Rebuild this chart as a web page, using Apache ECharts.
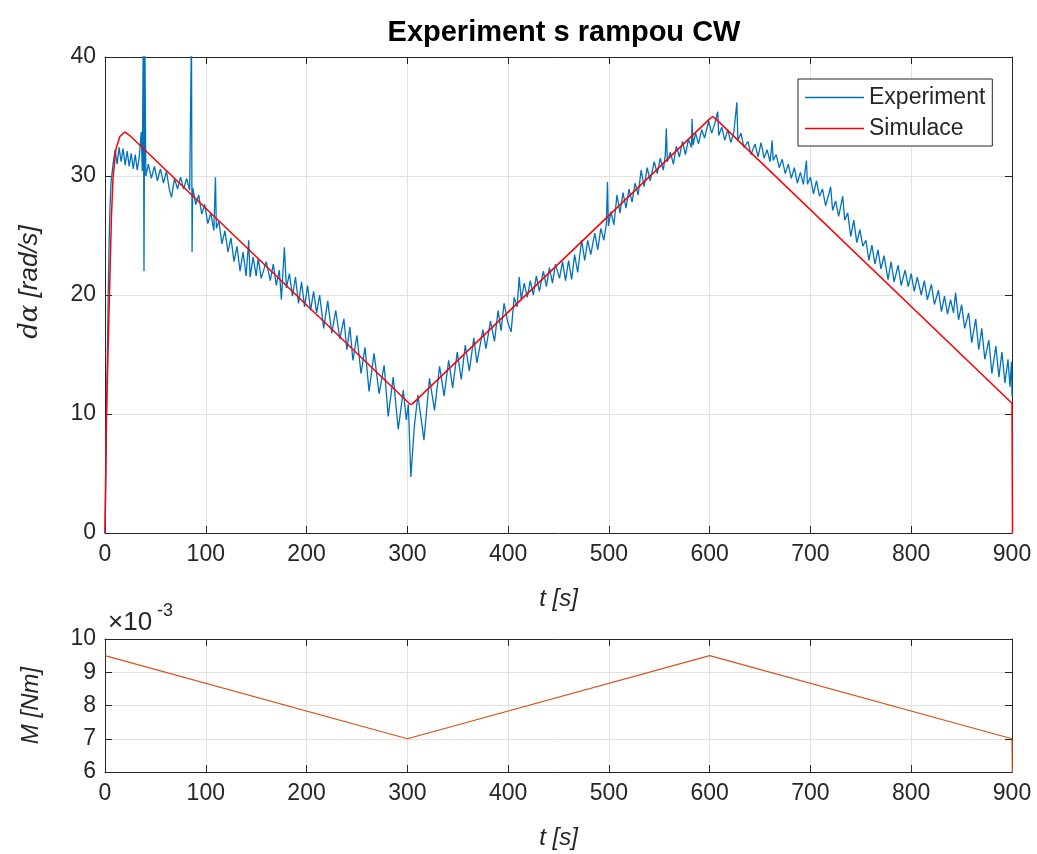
<!DOCTYPE html>
<html>
<head>
<meta charset="utf-8">
<script src="https://cdn.jsdelivr.net/npm/echarts@6/dist/echarts.min.js"></script>
<style>
html,body{margin:0;padding:0;background:#fff;}
#chart{width:1037px;height:854px;}
</style>
</head>
<body>
<div id="chart"></div>
<script>
// ---- Data ----
const xTicks = [0,100,200,300,400,500,600,700,800,900];

// Experiment: angular velocity [rad/s] vs time [s]
const expTime = [0,1,2,3,4,5,6,8,10,12,14,16,18,20,22,24,26,28,30,32,34,36,37,38,38.7,39.5,40.5,43,46,49,52,55,58,61,64,66,69,72,75,78,81,84,85.8,86.4,87,88,90,93,96,99,102,105,108,109.6,110.5,113,116,119,122,125,128,131,134,137,140,142.6,144,147,
150,152,155,160,164,167,170,173,175,178,180,183,186,189,192,195,198,201,204,207,210,213,217,221,225,229,233,237,240,243,246,250,254,258,262,267,272,277,281,286,291,296,299,301,303.5,307,310.5,316.5,322,327,332,336.5,341,345,349.5,353.5,357.5,361.5,366,369,375,378,382.5,386.5,390,393,396,400,403,406,409,411,413,416,419,422,425,428,431,435,438,441,444,447,451,
454,457,460,463,466,469,473,476,479,482,486,489,492,495,497.5,498.6,499.5,502,505,508,511,514,517,520,523,526,529,532,535,538,541,545,548,551,554,556,557,558,561,564,567,570,573,576,579,582,582.5,583.5,586,589,592,595,599,602,605,608,609,612,615,618,621,624,627,628,631,634,638,641,645,648,651,654,657,660,662,663,666,669,672,675,678,681,684,687,690,693,696,697,700,
703,706,709,712,715,718,720,722,725,728,732,734,737,740,743,746,749,752,755,758,761,764,767,770,773,777,780,783,787,790,794,797,800,803,806,810,813,816,820,823,827,830,833,836,839,842,844,847,850,853,857,860,864,867,870,873,877,880,884,887,890,893,896,898,899.5,900];
const expOmega = [0,6,13,19,24,27.5,29.5,31,32.2,31,32.4,31.2,32.3,30.9,32.1,30.8,31.9,30.6,31.8,30.5,31.6,33.7,30.4,42,22,42,30,31,29.8,30.8,29.6,30.6,29.4,30.4,28.8,28.2,29.8,28.9,29.9,28.9,29.8,28.8,42,23.6,29,28.6,27.6,28.4,26.8,27.6,26,26.9,25.4,29.9,25.6,26.2,24.3,25.4,23.6,24.8,22.8,24.1,22,23.6,21.6,24.6,21.5,23.2,
21.6,23.1,21.4,22.8,21.2,22.6,20.8,22.1,19.6,24,20.6,21.8,19.9,21.5,19.3,21.1,19,20.8,18.7,20.3,18.5,20,17.2,19.5,16.8,18.7,16.3,18,15.4,17.3,14.5,16.6,13.4,15.6,11.9,15.1,11.7,14.1,9.8,13.1,8.7,12,9.5,10.8,4.7,9,11.6,7.8,13,10.3,14,11.5,14.5,12.2,15.2,12.9,15.8,13.6,16.4,14.3,17.1,15.5,17.8,16.1,18.7,17,19.3,17.6,16.9,19.8,19,21.5,19.6,21,19.8,21.2,20,21.6,20.3,22,20.7,22.3,21,22.6,21.4,
22.8,21.2,22.9,21.3,23.4,21.9,24.6,22.9,24.6,23.4,25.2,23.8,25.6,24.6,26,29.5,25.8,27,25.9,28.4,26.9,28.6,27.3,28.9,27.8,29.4,28.4,30.5,29.1,30.7,29.6,31.2,30.2,31.5,30.5,31.8,34,31.2,32,31,32.5,31.6,32.9,31.8,33.1,32.4,34.8,32.6,33.6,32.7,33.9,33.2,34.6,33.6,34.4,35.4,33.4,34.1,33,33.9,32.8,33.7,36.2,33,33.6,32.4,32.9,31.8,32.7,31.6,32.8,31.5,32.2,31.2,33,31.3,31.8,30.7,31.4,30.2,31,29.8,30.7,29.4,30.3,29.3,31.3,29.3,29.9,
28.5,29.6,28.3,28.9,27.5,28.4,29.1,27.1,27.9,26.6,28.3,26.3,26.9,24.9,26.3,24.4,25.5,24.1,24.6,22.9,24.2,22.6,23.8,22.2,23.3,21.3,22.8,21.1,22.5,20.8,22.1,20.7,21.8,20.3,21.5,20,21.2,19.6,20.9,19.2,20.4,18.6,19.9,18.4,19.6,18.5,20.2,17.9,19.2,17.2,18.5,16,18,15.4,17.2,14.6,16.2,13.4,15.7,13.1,15.2,12.6,14.6,12.3,14.4,11.5];

// Simulation: angular velocity [rad/s]
const simTime  = [0,1.4,3.1,4.7,6.4,8,10.7,14.6,19.6,24.6,303,305,600,603,606,900,900.5];
const simOmega = [0,9.8,15.4,21,26.6,29.9,32.2,33.3,33.7,33.4,10.8,10.85,34.8,35,34.8,10.9,0];

// Torque M [Nm]
const torqueTime = [0,300,600,900,900.3];
const torqueM    = [0.0095,0.007,0.0095,0.007,0.006];

const zip = (a,b) => a.map((v,i)=>[v,b[i]]);

// ---- Style ----
const FONT = 'Liberation Sans, Arial, sans-serif';
const AX = '#262626';
const GRID = '#e2e2e2';

function xAxisMain(grid, name){
  return {
    gridIndex: grid, type:'value', min:0, max:900, interval:100, position:'bottom',
    axisLine:{show:true,onZero:false,lineStyle:{color:AX,width:1}},
    axisTick:{show:true,inside:true,length:7,lineStyle:{color:AX}},
    axisLabel:{color:AX,fontSize:23,fontFamily:FONT,margin:10},
    splitLine:{show:true,lineStyle:{color:GRID,width:1}},
    name:name,nameLocation:'middle',nameGap:54,
    nameTextStyle:{color:AX,fontSize:24,fontStyle:'italic',fontFamily:FONT}
  };
}
function xAxisTop(grid){
  return {
    gridIndex: grid, type:'value', min:0, max:900, interval:100, position:'top',
    axisLine:{show:true,onZero:false,lineStyle:{color:AX,width:1}},
    axisTick:{show:true,inside:true,length:7,lineStyle:{color:AX}},
    axisLabel:{show:false}, splitLine:{show:false}
  };
}
function yAxisMain(grid,min,max,interval,fmt,name,fs,pad){
  return {
    gridIndex: grid, type:'value', min:min, max:max, interval:interval, position:'left',
    axisLine:{show:true,onZero:false,lineStyle:{color:AX,width:1}},
    axisTick:{show:true,inside:true,length:7,lineStyle:{color:AX}},
    axisLabel:{color:AX,fontSize:23,fontFamily:FONT,margin:9,formatter:fmt},
    splitLine:{show:true,lineStyle:{color:GRID,width:1}},
    name:name,nameLocation:'middle',nameGap:62,nameRotate:90,
    nameTextStyle:{color:AX,fontSize:fs,fontStyle:'italic',fontFamily:FONT,padding:pad,
      rich:{m:{fontFamily:'DejaVu Serif, serif',fontStyle:'italic',fontSize:fs,color:AX}}}
  };
}
function yAxisRight(grid,min,max,interval){
  return {
    gridIndex: grid, type:'value', min:min, max:max, interval:interval, position:'right',
    axisLine:{show:true,onZero:false,lineStyle:{color:AX,width:1}},
    axisTick:{show:true,inside:true,length:7,lineStyle:{color:AX}},
    axisLabel:{show:false}, splitLine:{show:false}
  };
}

const chart = echarts.init(document.getElementById('chart'), null, {renderer:'canvas'});
chart.setOption({
  backgroundColor:'#ffffff',
  animation:false,
  title:{
    text:'Experiment s rampou CW', left:559, top:13, textAlign:'center',
    textStyle:{fontSize:29,fontWeight:'bold',color:'#000',fontFamily:FONT}
  },
  legend:{
    data:[{name:'Experiment',icon:'rect'},{name:'Simulace',icon:'rect'}],
    orient:'vertical', left:798, top:79,
    backgroundColor:'#fff', borderColor:AX, borderWidth:1, borderRadius:0,
    padding:[7,7,6,7], itemGap:8, itemWidth:59, itemHeight:1.6,
    textStyle:{fontSize:23,color:AX,fontFamily:FONT}
  },
  grid:[
    {left:105, right:25, top:57, height:476},
    {left:105, right:25, top:639, height:133}
  ],
  xAxis:[ xAxisMain(0,'t [s]'), xAxisTop(0), xAxisMain(1,'t [s]'), xAxisTop(1) ],
  yAxis:[
    yAxisMain(0,0,40,10,null,'{m|dα} [rad/s]',26,[0,0,0,26]),
    yAxisRight(0,0,40,10),
    yAxisMain(1,0.006,0.010,0.001,function(v){return String(Math.round(v*1000));},'M [Nm]',24,[0,0,0,0]),
    yAxisRight(1,0.006,0.010,0.001)
  ],
  graphic:[
    {type:'text',left:108,top:610,style:{text:'×10',fontSize:26,fill:AX,fontFamily:FONT}},
    {type:'text',left:157,top:602,style:{text:'-3',fontSize:18,fill:AX,fontFamily:FONT}}
  ],
  series:[
    {name:'Experiment',type:'line',xAxisIndex:0,yAxisIndex:0,data:zip(expTime,expOmega),
      symbol:'none',clip:true,lineStyle:{color:'#0072BD',width:1.3},itemStyle:{color:'#0072BD'},z:2},
    {name:'Simulace',type:'line',xAxisIndex:0,yAxisIndex:0,data:zip(simTime,simOmega),
      symbol:'none',clip:true,lineStyle:{color:'#FF0000',width:1.5},itemStyle:{color:'#FF0000'},z:3},
    {name:'M',type:'line',xAxisIndex:2,yAxisIndex:2,data:zip(torqueTime,torqueM),
      symbol:'none',clip:true,lineStyle:{color:'#D95319',width:1.2},itemStyle:{color:'#D95319'}}
  ]
});
</script>
</body>
</html>
